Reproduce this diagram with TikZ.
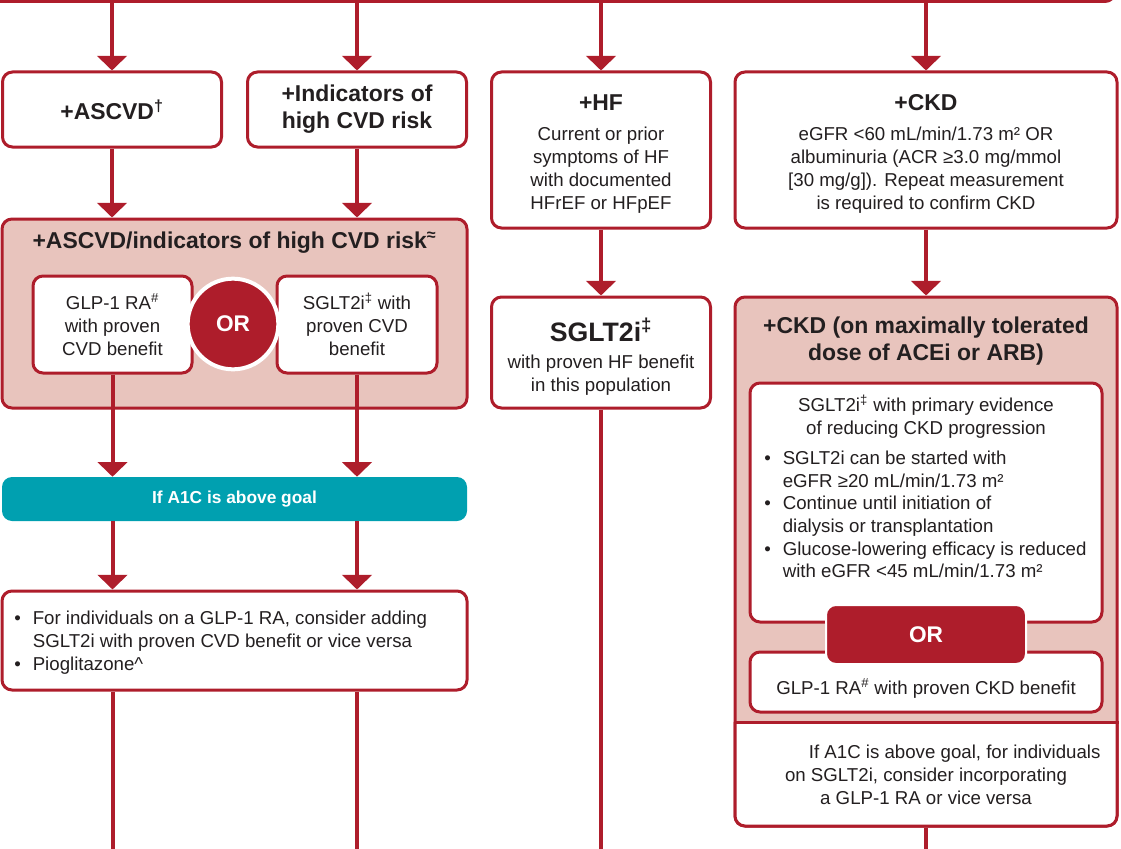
\documentclass[tikz,border=0pt]{standalone}
\usepackage{fontspec}
\setmainfont{Liberation Sans}
\usetikzlibrary{arrows.meta}

\definecolor{adared}{HTML}{AE1D2B}
\definecolor{adapink}{HTML}{E8C4BD}
\definecolor{adateal}{HTML}{00A0B0}
\definecolor{adatext}{HTML}{231F20}

\newcommand\headfont{\fontsize{17.2pt}{20.25pt}\selectfont\bfseries}
\newcommand\bigfont{\fontsize{20pt}{24pt}\selectfont\bfseries}
\newcommand\bodyfont{\fontsize{14pt}{17.25pt}\selectfont}
\newcommand\listfont{\fontsize{14pt}{17pt}\selectfont}
\newcommand\tealfont{\fontsize{13pt}{16pt}\selectfont\bfseries}
\newcommand\orfont{\fontsize{17pt}{20pt}\selectfont\bfseries}

\tikzset{
    redbox/.style={draw=adared,line width=2.25pt,fill=white,rounded corners=7.5pt,inner sep=0pt},
    pinkbox/.style={redbox,fill=adapink},
    tealbox/.style={fill=adateal,rounded corners=7.5pt,inner sep=0pt,text=white,font=\tealfont},
    orcircle/.style={circle,fill=adared,draw=white,line width=3pt,minimum size=68pt,inner sep=0pt,text=white,font=\orfont},
    orbox/.style={fill=adared,draw=white,line width=1.5pt,rounded corners=7.5pt,inner sep=0pt,text=white,font=\orfont},
    headtext/.style={text=adatext,font=\headfont,align=center,inner sep=0pt},
    bodytext/.style={text=adatext,font=\bodyfont,align=center,inner sep=0pt},
    listtext/.style={text=adatext,font=\listfont,inner sep=0pt},
    flowline/.style={draw=adared,line width=3pt,-{Triangle[width=22pt,length=11pt]}},
    plainline/.style={draw=adared,line width=3pt},
}

\begin{document}
\begin{tikzpicture}[x=0.75pt,y=-0.75pt]
    \useasboundingbox (0,0) rectangle (1121,849);
    %% Box above
    \node[redbox,minimum width=858.75pt,minimum height=75pt] (prev) at (542.5,-48.5) {};
    %% First row
    \node[redbox,headtext,minimum width=164.25pt,minimum height=56.25pt]
        (ascvd) at (112,109.5) {+ASCVD\textsuperscript{†}};
    \node[redbox,headtext,minimum width=164.25pt,minimum height=56.25pt]
        (indic) at (357,109.5) {+Indicators of\\high CVD risk};
    \node[redbox,minimum width=164.25pt,minimum height=117pt] (hf) at (601,150) {};
    \node[headtext] (hftitle) at (601,103) {+HF};
    \node[bodytext] (hftext) at (601,170)
        {Current or prior\\symptoms of HF\\with documented\\HFrEF or HFpEF};
    \node[redbox,minimum width=286.5pt,minimum height=117pt] (ckd) at (926,150) {};
    \node[headtext] (ckdtitle) at (926,103) {+CKD};
    \node[bodytext] (ckdtext) at (926,170)
        {eGFR <60 mL/min/1.73 m² OR\\albuminuria (ACR ≥3.0 mg/mmol\\{}[30 mg/g]). Repeat measurement\\is required to confirm CKD};
    %% ASCVD group
    \node[pinkbox,minimum width=348.75pt,minimum height=141.75pt] (cvdgrp) at (234.5,313.5) {};
    \node[headtext] (cvdtitle) at (234.5,243)
        {+ASCVD/indicators of high CVD risk\textsuperscript{≈}};
    \node[redbox,bodytext,minimum width=119.25pt,minimum height=72.75pt]
        (glp) at (112.5,324.5) {GLP-1 RA\textsuperscript{\#}\\with proven\\CVD benefit};
    \node[redbox,bodytext,minimum width=120pt,minimum height=72.75pt]
        (sglt) at (357,324.5) {SGLT2i\textsuperscript{‡} with\\proven CVD\\benefit};
    \node[orcircle] (orc) at (233,324) {OR};
    %% A1C above goal
    \node[tealbox,minimum width=348.75pt,minimum height=33pt] (goal) at (234.5,499) {If A1C is above goal};
    \node[redbox,minimum width=348.75pt,minimum height=74.25pt] (addon) at (234.5,640.5) {};
    \node[listtext,anchor=west] (addontext) at (14,643)
        {\begin{tabular}{@{}l@{\hspace{9pt}}l@{}}
            \textbullet & For individuals on a GLP-1 RA, consider adding\\
                        & SGLT2i with proven CVD benefit or vice versa\\
            \textbullet & Pioglitazone\textasciicircum
        \end{tabular}};
    %% HF column
    \node[redbox,minimum width=164.25pt,minimum height=83.25pt] (hfsglt) at (601,352.5) {};
    \node[headtext,font=\bigfont] (hfsglttitle) at (601,330) {SGLT2i\textsuperscript{‡}};
    \node[bodytext] (hfsglttext) at (601,375.5) {with proven HF benefit\\in this population};
    %% CKD column
    \node[pinkbox,minimum width=286.5pt,minimum height=396.75pt] (ckdgrp) at (926,561.5) {};
    \begin{scope}
        \clip (700,722) rectangle (1150,900);
        \node[redbox,minimum width=286.5pt,minimum height=396.75pt] (ckdnote) at (926,561.5) {};
    \end{scope}
    \coordinate (ckdsplit) at (926,722);
    \draw[adared,line width=2.25pt] (ckdgrp.west |- ckdsplit) -- (ckdgrp.east |- ckdsplit);
    \node[headtext] (ckdgrptitle) at (926,341.5) {+CKD (on maximally tolerated\\dose of ACEi or ARB)};
    \node[redbox,minimum width=264pt,minimum height=179.25pt] (ckdsglt) at (926,502.5) {};
    \node[bodytext] (ckdsglttext) at (926,416.5)
        {SGLT2i\textsuperscript{‡} with primary evidence\\of reducing CKD progression};
    \node[listtext,anchor=west] (ckdlist) at (764,516.5)
        {\begin{tabular}{@{}l@{\hspace{9pt}}l@{}}
            \textbullet & SGLT2i can be started with\\
                        & eGFR ≥20 mL/min/1.73 m²\\
            \textbullet & Continue until initiation of\\
                        & dialysis or transplantation\\
            \textbullet & Glucose-lowering efficacy is reduced\\
                        & with eGFR <45 mL/min/1.73 m²
        \end{tabular}};
    \node[redbox,minimum width=264pt,minimum height=45pt] (ckdglp) at (926,682) {};
    \node[bodytext] (ckdglptext) at (926,688) {GLP-1 RA\textsuperscript{\#} with proven CKD benefit};
    \node[orbox,minimum width=150pt,minimum height=44.25pt] (ckdor) at (926,634.5) {OR};
    \node[bodytext] (ckdnotetext) at (926,775)
        {\hspace*{43pt}If A1C is above goal, for individuals\\on SGLT2i, consider incorporating\\a GLP-1 RA or vice versa};
    %% Arrows
    \draw[flowline] (prev.south -| ascvd.north) -- (ascvd.north);
    \draw[flowline] (prev.south -| indic.north) -- (indic.north);
    \draw[flowline] (prev.south -| hf.north) -- (hf.north);
    \draw[flowline] (prev.south -| ckd.north) -- (ckd.north);
    \draw[flowline] (ascvd.south) -- (ascvd.south |- cvdgrp.north);
    \draw[flowline] (indic.south) -- (indic.south |- cvdgrp.north);
    \draw[flowline] (glp.south) -- (glp.south |- goal.north);
    \draw[flowline] (sglt.south) -- (sglt.south |- goal.north);
    \draw[flowline] (goal.south -| glp.south) -- (addon.north -| glp.south);
    \draw[flowline] (goal.south -| sglt.south) -- (addon.north -| sglt.south);
    \draw[flowline] (hf.south) -- (hfsglt.north);
    \draw[flowline] (ckd.south) -- (ckdgrp.north);
    %% Lines running on
    \coordinate (out1) at (112.5,870);
    \coordinate (out2) at (357,870);
    \coordinate (out3) at (601,870);
    \coordinate (out4) at (926,870);
    \draw[plainline] (addon.south -| out1) -- (out1);
    \draw[plainline] (addon.south -| out2) -- (out2);
    \draw[plainline] (hfsglt.south) -- (out3);
    \draw[plainline] (ckdgrp.south) -- (out4);
\end{tikzpicture}
\end{document}
